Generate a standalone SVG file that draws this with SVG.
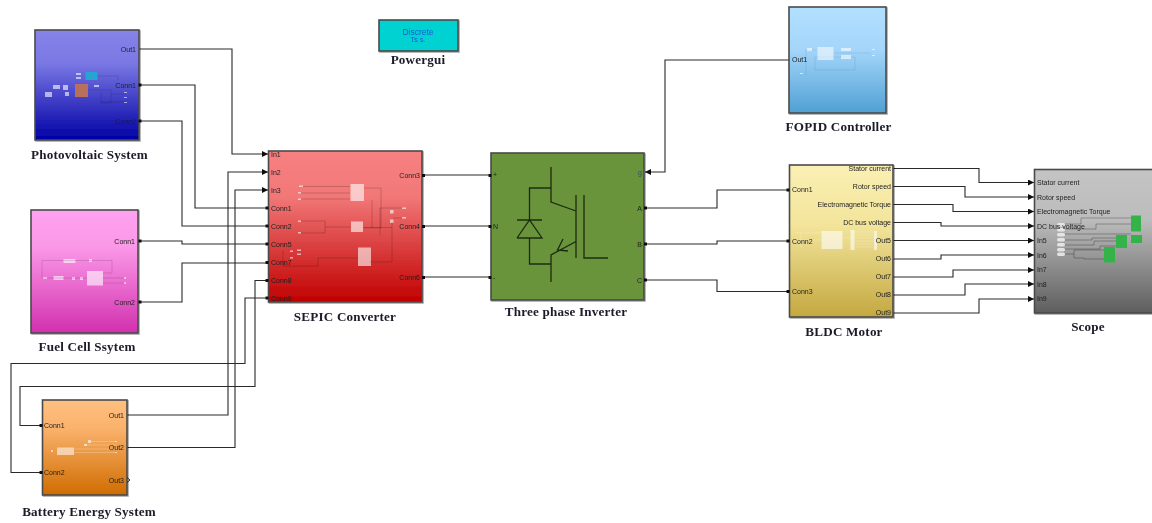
<svg xmlns="http://www.w3.org/2000/svg" width="1152" height="523" viewBox="0 0 1152 523">
<style>
text{font-family:"Liberation Sans",Arial,sans-serif}
.t{font-family:"Liberation Serif","Times New Roman",serif;font-weight:bold;font-size:13.1px;fill:#1a1a28;text-anchor:middle;letter-spacing:.2px}
.p{font-size:7px;fill:#222}
.e{text-anchor:end}
.b{stroke:#4a4a4a;stroke-width:1.6;filter:url(#sh)}
.c{fill:none;stroke:#2a2a2a;stroke-width:1.1}
.i{fill:none;stroke:#000;stroke-opacity:.22;stroke-width:.6}
.iw{fill:none;stroke:#fff;stroke-opacity:.4;stroke-width:.6}
.w{fill:#fff;fill-opacity:.6}
.sq{fill:#111}
.pin{fill:#eee;fill-opacity:.85}
</style>
<defs>
<filter id="sh" x="-5%" y="-5%" width="110%" height="110%"><feDropShadow dx="1" dy="1" stdDeviation="0.7" flood-color="#000" flood-opacity=".35"/></filter>
<filter id="soft" x="-2%" y="-2%" width="104%" height="104%"><feGaussianBlur stdDeviation="0.4"/></filter>
<marker id="ar" markerUnits="userSpaceOnUse" markerWidth="7" markerHeight="7" refX="6" refY="3" orient="auto"><path d="M0,0L6,3L0,6Z" fill="#111"/></marker>
<linearGradient id="gPV" x1="0" y1="0" x2="0" y2="1"><stop offset="0" stop-color="#8684e8"/><stop offset=".3" stop-color="#7a78e4"/><stop offset="1" stop-color="#0000a4"/></linearGradient>
<linearGradient id="gFC" x1="0" y1="0" x2="0" y2="1"><stop offset="0" stop-color="#ffa2f0"/><stop offset=".3" stop-color="#fb98e8"/><stop offset="1" stop-color="#d230ae"/></linearGradient>
<linearGradient id="gBA" x1="0" y1="0" x2="0" y2="1"><stop offset="0" stop-color="#ffc080"/><stop offset=".3" stop-color="#fab26c"/><stop offset="1" stop-color="#d06c00"/></linearGradient>
<linearGradient id="gSE" x1="0" y1="0" x2="0" y2="1"><stop offset="0" stop-color="#f88080"/><stop offset=".3" stop-color="#f27878"/><stop offset="1" stop-color="#c00000"/></linearGradient>
<linearGradient id="gBL" x1="0" y1="0" x2="0" y2="1"><stop offset="0" stop-color="#fbf0b4"/><stop offset=".4" stop-color="#f2e49a"/><stop offset="1" stop-color="#c4a840"/></linearGradient>
<linearGradient id="gSC" x1="0" y1="0" x2="0" y2="1"><stop offset="0" stop-color="#c4c4c4"/><stop offset=".35" stop-color="#bcbcbc"/><stop offset="1" stop-color="#5e5e5e"/></linearGradient>
<linearGradient id="gFO" x1="0" y1="0" x2="0" y2="1"><stop offset="0" stop-color="#b2e0ff"/><stop offset=".4" stop-color="#a4d6fa"/><stop offset="1" stop-color="#50a0d4"/></linearGradient>
</defs>
<g filter="url(#soft)">
<g id="connectors">
<path class="c" marker-end="url(#ar)" d="M139,49H232V154H268"/>
<path class="c" d="M141,85H195V208H266"/>
<path class="c" d="M141,121H182V226H266"/>
<path class="c" d="M141,241H182V244H266"/>
<path class="c" d="M141,302H182V263H266"/>
<path class="c" marker-end="url(#ar)" d="M127,415H228V172H268"/>
<path class="c" marker-end="url(#ar)" d="M127,447.500H235V190H268"/>
<path class="c" d="M266,280.500H255V386.500H20V425.500H40"/>
<path class="c" d="M266,298H245V363.500H11V472.500H40"/>
<path class="c" d="M424,175H489"/>
<path class="c" d="M424,226H489"/>
<path class="c" d="M424,277H489"/>
<path class="c" marker-end="url(#ar)" d="M789,60H665V172H645"/>
<path class="c" d="M646,208H717V190H787"/>
<path class="c" d="M646,244H717V241H787"/>
<path class="c" d="M646,280H717V291.500H787"/>
<path class="c" marker-end="url(#ar)" d="M893,168.500H979V182.500H1034"/>
<path class="c" marker-end="url(#ar)" d="M893,186.500H965V197H1034"/>
<path class="c" marker-end="url(#ar)" d="M893,204.500H953V211.500H1034"/>
<path class="c" marker-end="url(#ar)" d="M893,222.500H941V226H1034"/>
<path class="c" marker-end="url(#ar)" d="M893,240.500H1034"/>
<path class="c" marker-end="url(#ar)" d="M893,259H941V255H1034"/>
<path class="c" marker-end="url(#ar)" d="M893,277H953V270H1034"/>
<path class="c" marker-end="url(#ar)" d="M893,295H965V284H1034"/>
<path class="c" marker-end="url(#ar)" d="M893,313H979V299H1034"/>
</g>
<g id="pv">
<rect class="b" x="35" y="30" width="104" height="110" fill="url(#gPV)"/>
<rect x="85.500" y="72" width="12" height="8" fill="#25a5d0"/>
<rect x="75" y="84" width="13" height="13" fill="#b8705c"/>
<path class="w" d="M76,73h5v2h-5zM76,77h5v2h-5zM53,85h7v4h-7zM63,85h5v5h-5zM45,92h7v5h-7zM65,92h4v4h-4zM94,85h5v2h-5zM124,92h3v1h-3zM124,97h3v1h-3zM124,102h3v1h-3z"/>
<path class="i" d="M97,76H118V80M88,90H111V103H101V92M111,94H126M101,102H126"/>
<text class="p e" x="136" y="51.500">Out1</text>
<text class="p e" x="136" y="87.500">Conn1</text>
<text class="p e" x="136" y="123.500">Conn2</text>
<rect class="sq" x="138.500" y="83.500" width="3" height="3"/><rect class="sq" x="138.500" y="119.500" width="3" height="3"/>
<text class="t" x="89.500" y="159">Photovoltaic System</text>
</g>
<g id="fuelcell">
<rect class="b" x="31" y="210" width="107" height="123" fill="url(#gFC)"/>
<rect x="87" y="271" width="16" height="14.500" fill="#fff" fill-opacity=".6"/>
<path class="w" d="M63.500,259h12v4h-12zM89,259h3v3h-3zM53.500,276h10v4h-10zM72,277h3v3h-3zM80,277h3v3h-3zM43,277h4v2h-4zM124,277h2v2h-2zM124,282h2v2h-2z"/>
<path class="i" d="M42,260.500H112V273H103M42,260.500V278H87M103,278H125M103,283H125"/>
<text class="p e" x="135" y="243.500">Conn1</text>
<text class="p e" x="135" y="304.500">Conn2</text>
<rect class="sq" x="138.500" y="239.500" width="3" height="3"/><rect class="sq" x="138.500" y="300.500" width="3" height="3"/>
<text class="t" x="87" y="350.500">Fuel Cell Ssytem</text>
</g>
<g id="battery">
<rect class="b" x="42.500" y="400" width="84.500" height="95" fill="url(#gBA)"/>
<rect x="57" y="447.500" width="17" height="7.500" fill="#fff" fill-opacity=".55"/>
<path class="w" d="M88,440h3v3h-3zM84,444h3v2h-3zM51,450h2v2h-2zM115,441h2v1h-2zM115,452h2v1h-2z"/>
<path class="iw" d="M91,441.500H115M87,445H116M74,449H117M74,452.500H115"/>
<text class="p" x="44" y="428">Conn1</text>
<text class="p" x="44" y="475">Conn2</text>
<text class="p e" x="124" y="417.500">Out1</text>
<text class="p e" x="124" y="450">Out2</text>
<text class="p e" x="124" y="483">Out3</text>
<rect class="sq" x="39.500" y="424" width="3" height="3"/><rect class="sq" x="39.500" y="471" width="3" height="3"/>
<path d="M127,477.500l3,2.500l-3,2.500" fill="none" stroke="#222"/>
<text class="t" x="89" y="516">Battery Energy System</text>
</g>
<g id="sepic">
<rect class="b" x="268.500" y="151" width="153.500" height="151" fill="url(#gSE)"/>
<rect x="350.500" y="184" width="13.500" height="17" fill="#fff" fill-opacity=".6"/>
<rect x="351" y="221.500" width="12" height="10.500" fill="#fff" fill-opacity=".6"/>
<rect x="358" y="247.500" width="13" height="18.500" fill="#fff" fill-opacity=".6"/>
<path class="w" d="M299,185.500h4v1.500h-4zM298,192h3v1.500h-3zM298,198.500h3v1.500h-3zM298,220.500h3v1.500h-3zM298,232h3v1.500h-3zM297,249.500h4v1.500h-4zM297,253.500h4v1.500h-4zM290,250.500h3v1.500h-3zM290,257h3v1.500h-3zM402,207.500h4v1.500h-4zM402,217h4v1.500h-4zM390,210h3.500v3.500h-3.500zM390,219.500h3.500v3.500h-3.500z"/>
<path class="i" style="stroke-opacity:.3" d="M303,186.500H350M301,193H350M301,199H350M364,188H381V228H364M301,221H325V227H351M301,233H325V227M363,227.500H392M372,200V228M380,208H402M380,235V208M392,222V262H370M283,251V266H318V258H358M393,218H402"/>
<text class="p" x="271" y="157">In1</text><text class="p" x="271" y="174.500">In2</text><text class="p" x="271" y="192.500">In3</text>
<text class="p" x="271" y="210.500">Conn1</text><text class="p" x="271" y="228.500">Conn2</text><text class="p" x="271" y="247">Conn5</text><text class="p" x="271" y="265">Conn7</text><text class="p" x="271" y="283">Conn8</text><text class="p" x="271" y="300.500">Conn9</text>
<text class="p e" x="420" y="177.500">Conn3</text><text class="p e" x="420" y="229">Conn4</text><text class="p e" x="420" y="279.500">Conn6</text>
<path class="sq" d="M265.500,206.500h3v3h-3zM265.500,224.500h3v3h-3zM265.500,242.500h3v3h-3zM265.500,261h3v3h-3zM265.500,279h3v3h-3zM265.500,296.500h3v3h-3zM422,174h3v3h-3zM422,225h3v3h-3zM422,276h3v3h-3z"/>
<text class="t" x="345" y="321">SEPIC Converter</text>
</g>
<g id="inverter">
<rect class="b" x="491" y="153" width="153" height="147" fill="#6b943a"/>
<path fill="none" stroke="#1d2c10" stroke-width="1.300" d="M551,167V202L576,211M576,195V258M584,195V258H608M576,241.500L551,255V282M551,188H529.500V220M529.500,238V264H551M517,220H542M517,238H542L529.500,220L517,238M563,239L557.500,250L568,251"/>
<text class="p" x="493" y="177" fill="#222">+</text><text class="p" x="493" y="228.500">N</text><text class="p" x="493" y="279.500">-</text>
<text class="p e" x="642" y="175" style="fill:#2a4a80">g</text><text class="p e" x="642" y="210.500">A</text><text class="p e" x="642" y="246.500">B</text><text class="p e" x="642" y="282.500">C</text>
<path class="sq" d="M488.500,174h3v3h-3zM488.500,225h3v3h-3zM488.500,276h3v3h-3zM644,206.500h3v3h-3zM644,242.500h3v3h-3zM644,278.500h3v3h-3z"/>
<text class="t" x="566" y="316">Three phase Inverter</text>
</g>
<g id="bldc">
<rect class="b" x="789.500" y="165" width="103.500" height="152" fill="url(#gBL)"/>
<rect x="821.500" y="231" width="21" height="18" fill="#fff" fill-opacity=".6"/>
<path class="w" d="M850.500,230h4v20h-4zM874,231h3v19h-3z"/>
<path class="iw" d="M801,233V248M795,233H821M795,240H821M843,238H850M855,232H874M855,235H874M855,238H874M855,241H874M855,244H874M855,247H874"/>
<text class="p" x="792" y="192">Conn1</text><text class="p" x="792" y="243.500">Conn2</text><text class="p" x="792" y="293.500">Conn3</text>
<g><text class="p e" x="891" y="170.500">Stator current</text><text class="p e" x="891" y="189">Rotor speed</text><text class="p e" x="891" y="207">Electromagnetic Torque</text><text class="p e" x="891" y="225">DC bus voltage</text><text class="p e" x="891" y="243">Out5</text><text class="p e" x="891" y="261">Out6</text><text class="p e" x="891" y="279">Out7</text><text class="p e" x="891" y="297">Out8</text><text class="p e" x="891" y="315">Out9</text></g>
<path class="sq" d="M786.500,188.500h3v3h-3zM786.500,239.500h3v3h-3zM786.500,290h3v3h-3z"/>
<text class="t" x="844" y="336">BLDC Motor</text>
</g>
<g id="scope">
<rect class="b" x="1034.500" y="169.500" width="120" height="143.500" fill="url(#gSC)"/>
<rect x="1131" y="215.500" width="10" height="16" fill="#36b34a"/>
<rect x="1116" y="235" width="11" height="13" fill="#36b34a"/>
<rect x="1131" y="235" width="11" height="8" fill="#36b34a"/>
<rect x="1104" y="247" width="11" height="15.500" fill="#36b34a"/>
<g class="pin"><rect x="1057" y="223" width="8" height="3.500" rx="1.700"/><rect x="1057" y="228" width="8" height="3.500" rx="1.700"/><rect x="1057" y="233" width="8" height="3.500" rx="1.700"/><rect x="1057" y="238" width="8" height="3.500" rx="1.700"/><rect x="1057" y="243" width="8" height="3.500" rx="1.700"/><rect x="1057" y="248" width="8" height="3.500" rx="1.700"/><rect x="1057" y="252.500" width="8" height="3.500" rx="1.700"/></g>
<path class="i" style="stroke-opacity:.45" d="M1081,218H1131M1081,218V224H1065M1096,224H1131M1096,224V229H1065M1065,234H1131M1065,240H1092V238H1116M1065,245H1094V241H1116M1065,249H1100V246H1116M1065,254H1074V250H1104M1074,254V258H1084V259H1104"/>
<text class="p" x="1037" y="185">Stator current</text><text class="p" x="1037" y="199.500">Rotor speed</text><text class="p" x="1037" y="214">Electromagnetic Torque</text><text class="p" x="1037" y="228.500">DC bus voltage</text><text class="p" x="1037" y="243">In5</text><text class="p" x="1037" y="257.500">In6</text><text class="p" x="1037" y="272">In7</text><text class="p" x="1037" y="286.500">In8</text><text class="p" x="1037" y="301">In9</text>
<text class="t" x="1088" y="331">Scope</text>
</g>
<g id="fopid">
<rect class="b" x="789" y="7" width="97" height="106" fill="url(#gFO)"/>
<path class="i" style="stroke-opacity:.12" d="M805,50H817M806,50V75M815,57H855V70H815V57M834,53H871"/>
<rect x="817.500" y="47" width="16" height="13" fill="#fff" fill-opacity=".55"/>
<path class="w" d="M807,48h5v3h-5zM841,48h10v3h-10zM841,55h10v4h-10zM872,49h3v1h-3zM872,55h3v1h-3zM800,73h3v1h-3z"/>
<text class="p" x="792" y="62">Out1</text>
<text class="t" x="838.500" y="131">FOPID Controller</text>
</g>
<g id="powergui">
<rect class="b" x="379" y="20" width="79" height="31" fill="#00d2d2"/>
<text x="418" y="35" font-size="8.500" fill="#1a5ad8" text-anchor="middle">Discrete</text>
<text x="418" y="42" font-size="7.500" fill="#1a5ad8" text-anchor="middle">Ts s.</text>
<text class="t" x="418" y="64">Powergui</text>
</g>
</g>
</svg>
